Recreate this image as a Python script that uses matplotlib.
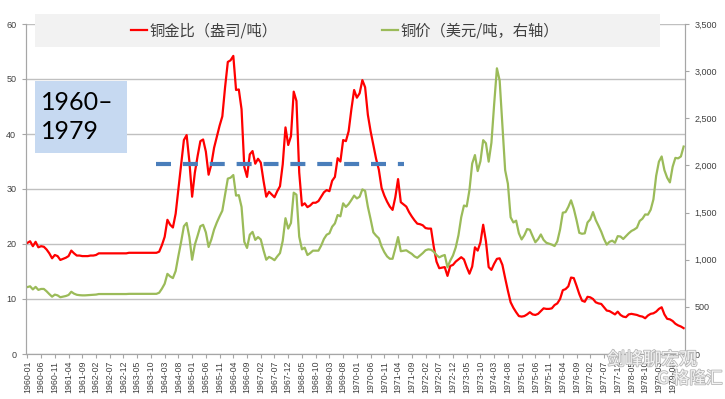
import numpy as np
import pandas as pd
import matplotlib.pyplot as plt
from matplotlib.patches import Rectangle
import matplotlib.patheffects as pe

plt.rcParams['font.family'] = ['Noto Sans CJK SC', 'DejaVu Sans']

months = pd.period_range('1960-01', '1979-12', freq='M').strftime('%Y-%m').tolist()

# copper / gold ratio (oz per tonne), monthly, left axis
ratio = [
    20.2, 20.5, 19.6, 20.4, 19.4, 19.6, 19.5, 19.0, 18.3, 17.4, 18.0, 17.8,  # 1960
    17.1, 17.3, 17.5, 17.8, 18.8, 18.3, 17.9, 17.9, 17.8, 17.8, 17.8, 17.9,  # 1961
    17.9, 18.0, 18.3, 18.3, 18.3, 18.3, 18.3, 18.3, 18.3, 18.3, 18.3, 18.3,  # 1962
    18.3, 18.4, 18.4, 18.4, 18.4, 18.4, 18.4, 18.4, 18.4, 18.4, 18.4, 18.4,  # 1963
    18.6, 19.8, 21.3, 24.4, 23.5, 23.0, 25.5, 30.0, 34.5, 38.9, 39.8, 35.0,  # 1964
    28.6, 33.0, 36.0, 38.7, 39.0, 36.8, 32.6, 34.5, 37.5, 39.5, 41.5, 43.2,  # 1965
    48.5, 53.1, 53.4, 54.2, 48.0, 48.1, 44.5, 34.0, 32.2, 36.3, 36.9, 34.6,  # 1966
    35.5, 34.8, 31.5, 28.6, 29.5, 29.0, 28.5, 29.6, 30.5, 34.5, 41.2, 38.0,  # 1967
    39.6, 47.7, 46.0, 33.0, 27.0, 27.4, 26.7, 27.0, 27.5, 27.5, 27.8, 28.6,  # 1968
    29.4, 29.8, 29.6, 31.5, 32.2, 35.6, 35.0, 38.9, 38.7, 40.5, 44.5, 48.0,  # 1969
    46.6, 47.4, 49.8, 48.5, 43.5, 40.5, 38.0, 35.5, 33.5, 30.2, 28.8, 27.7,  # 1970
    26.8, 26.2, 28.5, 31.8, 27.6, 27.2, 26.8, 25.8, 25.0, 24.3, 23.7, 23.6,  # 1971
    23.4, 22.9, 22.8, 22.8, 19.5, 16.8, 15.6, 15.7, 15.8, 14.2, 16.0, 16.2,  # 1972
    16.8, 17.2, 17.6, 17.2, 15.8, 14.6, 15.9, 19.4, 18.8, 20.3, 23.5, 20.5,  # 1973
    15.8, 15.3, 16.4, 17.3, 17.4, 16.2, 13.8, 11.5, 9.4, 8.4, 7.6, 6.9,      # 1974
    6.8, 6.9, 7.2, 7.6, 7.2, 7.1, 7.3, 7.8, 8.3, 8.2, 8.2, 8.3,              # 1975
    8.9, 9.2, 10.0, 11.6, 11.8, 12.3, 13.9, 13.8, 12.4, 10.9, 9.7, 9.5,      # 1976
    10.4, 10.3, 10.0, 9.4, 9.2, 9.1, 8.5, 7.9, 7.8, 7.5, 7.2, 7.7,           # 1977
    7.1, 6.8, 6.7, 7.2, 7.3, 7.2, 7.1, 6.9, 6.8, 6.5, 7.0, 7.3,              # 1978
    7.4, 7.7, 8.2, 8.5, 7.2, 6.4, 6.3, 6.0, 5.5, 5.2, 5.0, 4.7,              # 1979
]

# copper price (USD / tonne), monthly, right axis
copper = [
    710, 718, 685, 712, 680, 690, 690, 665, 635, 608, 630, 622,              # 1960
    602, 608, 615, 626, 660, 640, 628, 624, 622, 622, 624, 626,              # 1961
    628, 630, 636, 636, 636, 636, 636, 636, 636, 636, 636, 636,              # 1962
    636, 638, 638, 638, 638, 638, 638, 638, 638, 638, 638, 638,              # 1963
    650, 693, 745, 850, 823, 805, 880, 1040, 1190, 1355, 1390, 1240,         # 1964
    1000, 1160, 1255, 1355, 1370, 1290, 1135, 1215, 1320, 1395, 1460, 1520,  # 1965
    1690, 1860, 1870, 1898, 1680, 1685, 1560, 1190, 1125, 1265, 1295, 1210,  # 1966
    1240, 1215, 1100, 1000, 1030, 1015, 995, 1035, 1070, 1200, 1440, 1330,   # 1967
    1390, 1711, 1690, 1244, 1110, 1128, 1050, 1070, 1096, 1096, 1096, 1150,  # 1968
    1220, 1265, 1280, 1350, 1385, 1474, 1460, 1598, 1560, 1590, 1633, 1680,  # 1969
    1650, 1668, 1746, 1730, 1562, 1430, 1290, 1255, 1227, 1140, 1080, 1035,  # 1970
    1010, 1010, 1120, 1240, 1090, 1095, 1100, 1080, 1062, 1035, 1020, 1045,  # 1971
    1070, 1100, 1110, 1106, 1085, 1050, 1025, 1040, 1050, 920, 990, 1045,    # 1972
    1130, 1260, 1450, 1575, 1565, 1739, 2020, 2110, 1940, 2045, 2268, 2235,  # 1973
    2040, 2240, 2650, 3030, 2900, 2420, 1950, 1805, 1450, 1395, 1414, 1280,  # 1974
    1215, 1260, 1325, 1318, 1250, 1185, 1218, 1268, 1210, 1180, 1170, 1160,  # 1975
    1145, 1195, 1320, 1499, 1505, 1560, 1630, 1540, 1420, 1285, 1275, 1280,  # 1976
    1395, 1428, 1505, 1420, 1360, 1297, 1220, 1160, 1190, 1202, 1180, 1250,  # 1977
    1246, 1220, 1250, 1280, 1305, 1320, 1340, 1411, 1435, 1480, 1478, 1530,  # 1978
    1640, 1890, 2040, 2095, 1950, 1870, 1820, 1986, 2080, 2075, 2095, 2200,  # 1979
]

# blue dashed reference level drawn on the ratio axis
ref_level = 34.6
ref_span = [47, 137.3]

x = np.arange(len(months))

fig = plt.figure(figsize=(7.25, 3.99), dpi=100)
ax = fig.add_axes([26 / 725, 1 - 354 / 399, 659 / 725, 330 / 399])
ax2 = ax.twinx()

l1, = ax.plot(x, ratio, color='#ff0000', lw=1.6, label='铜金比（盎司/吨）')
l2, = ax2.plot(x, copper, color='#9bbb59', lw=1.6, label='铜价（美元/吨，右轴）')

ax.set_xlim(-0.5, len(months) - 0.5)
ax.set_ylim(0, 60)
ax2.set_ylim(0, 3500)
ax.set_yticks(range(0, 61, 10))
ax2.set_yticks(range(0, 3501, 500))
ax2.set_yticklabels([f'{v:,}' for v in range(0, 3501, 500)])

ax.set_xticks(x[::5])
ax.set_xticklabels(months[::5], rotation=90, fontsize=6.3, color='#404040',
                   family=['Liberation Sans'])

ax.yaxis.grid(True, color='#c0c0c0', lw=1.0)
ax.set_axisbelow(True)

for a in (ax, ax2):
    a.spines['top'].set_visible(False)
    for s in ('left', 'right', 'bottom'):
        a.spines[s].set_color('#a6a6a6')
ax.tick_params(axis='y', length=3, color='#a6a6a6', labelsize=6.5,
               labelcolor='#404040', pad=4)
ax2.tick_params(axis='y', length=3, color='#a6a6a6', labelsize=6.5,
                labelcolor='#404040', pad=4)
ax.tick_params(axis='x', length=3, color='#a6a6a6', pad=2)
for lab in ax.get_yticklabels() + ax2.get_yticklabels():
    lab.set_family('Liberation Sans')

# dashed level line on top of the lines
ax2.plot(ref_span, [ref_level, ref_level], transform=ax.transData,
         color='#4a7ebb', lw=3, dashes=(3.6, 2.85), zorder=5)

# legend band
ax2.add_patch(Rectangle((0.0137, 0.930), 0.948, 0.100, transform=ax2.transAxes,
                        facecolor='#f2f2f2', edgecolor='none', clip_on=False, zorder=6))
leg = ax2.legend(handles=[l1, l2], loc='center', bbox_to_anchor=(0.484, 0.98),
                 ncol=2, frameon=False, fontsize=11, handlelength=1.0,
                 handletextpad=0.15, columnspacing=6.9)
leg.set_zorder(7)
for t in leg.get_texts():
    t.set_color('#404040')

# period box
ax2.add_patch(Rectangle((0.0137, 0.609), 0.139, 0.218, transform=ax2.transAxes,
                        facecolor='#c6d9f1', edgecolor='none', zorder=6))
ax2.text(0.023, 0.718, '1960–\n1979', transform=ax2.transAxes, fontsize=18,
         family=['Lato', 'DejaVu Sans'], va='center', ha='left',
         linespacing=1.3, color='black', zorder=7)

# watermark
wm = dict(color='#f4f4f4', path_effects=[pe.withStroke(linewidth=1.2, foreground='#b8b8b8')])
fig.text(652 / 725, 1 - 360 / 399, '剑峰聊宏观', fontsize=13, ha='center', va='center', **wm)
fig.text(690 / 725, 1 - 379 / 399, 'G 格隆汇', fontsize=12, ha='center', va='center', **wm)

fig.savefig('out.png', dpi=100)
